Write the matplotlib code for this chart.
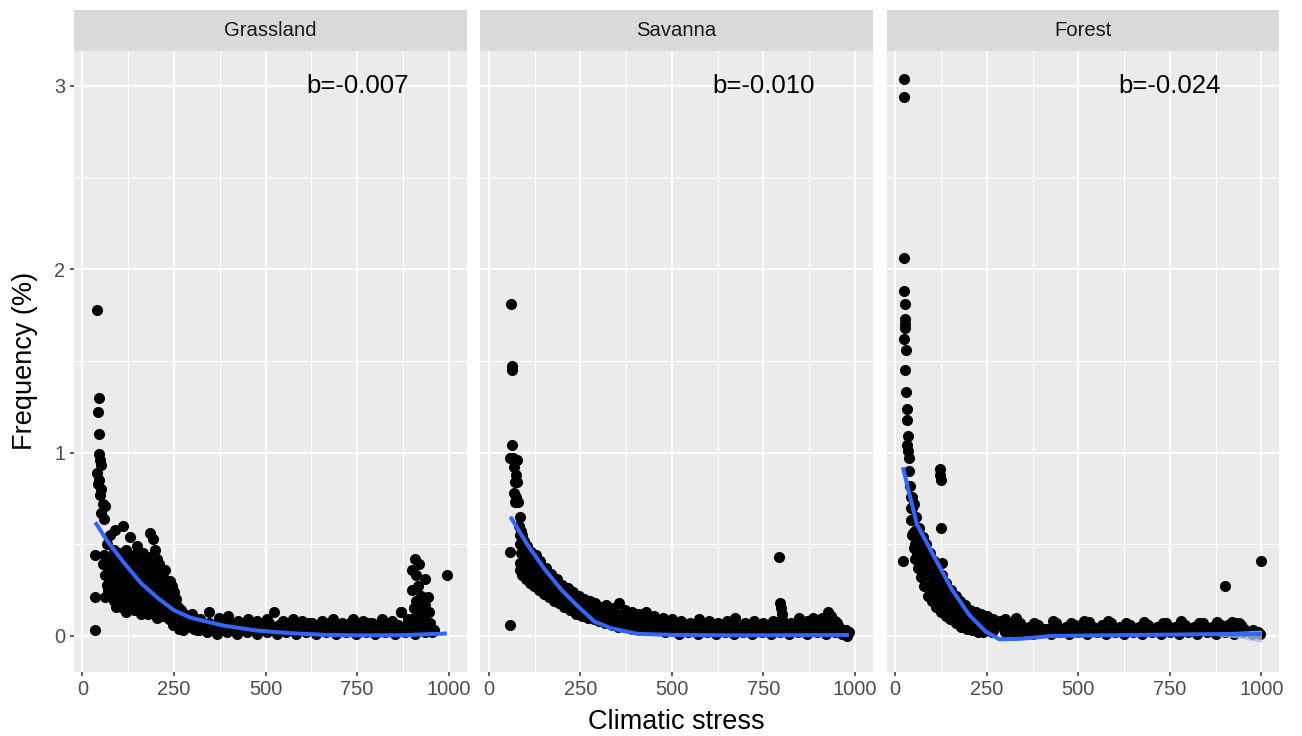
import matplotlib
matplotlib.use("Agg")
import matplotlib.pyplot as plt
from matplotlib.ticker import MultipleLocator

plt.rcParams['font.family'] = ['Liberation Sans', 'DejaVu Sans']

facets = ["Grassland", "Savanna", "Forest"]
slopes = ["b=-0.007", "b=-0.010", "b=-0.024"]

# points (climatic stress, frequency %)
grass_pts = [
    (40, 1.78), (45, 1.30), (43, 1.22), (45, 1.10), (44, 0.99), (48, 0.96), (52, 0.93), (40, 0.89),
    (46, 0.85), (42, 0.83), (50, 0.80), (47, 0.77), (56, 0.72), (63, 0.71), (52, 0.67), (58, 0.64),
    (35, 0.44), (35, 0.21), (35, 0.03),
    (111, 0.60), (130, 0.54), (184, 0.56), (193, 0.53), (197, 0.47), (150, 0.49), (166, 0.45),
    (120, 0.47), (88, 0.58), (76, 0.55), (68, 0.50), (86, 0.47),
    (60, 0.44), (82, 0.43), (101, 0.45), (122, 0.42), (141, 0.44), (158, 0.41), (178, 0.43), (205, 0.42),
    (57, 0.39), (74, 0.37), (96, 0.40), (113, 0.36), (134, 0.39), (153, 0.36), (172, 0.38), (194, 0.37),
    (214, 0.35), (62, 0.33), (81, 0.31), (99, 0.34), (121, 0.32), (139, 0.30), (162, 0.33), (181, 0.31),
    (199, 0.29), (221, 0.32), (238, 0.30), (66, 0.28), (87, 0.26), (104, 0.29), (127, 0.27), (146, 0.25),
    (168, 0.28), (187, 0.24), (207, 0.27), (228, 0.25), (246, 0.27), (61, 0.21), (79, 0.23), (98, 0.20),
    (118, 0.22), (137, 0.19), (157, 0.22), (176, 0.19), (198, 0.21), (218, 0.18), (239, 0.22), (256, 0.20),
    (92, 0.16), (112, 0.15), (131, 0.17), (152, 0.14), (171, 0.16), (193, 0.14), (213, 0.13), (233, 0.15),
    (252, 0.16), (160, 0.12), (205, 0.10), (236, 0.09), (248, 0.06), (260, 0.12), (265, 0.04), (268, 0.08),
    (275, 0.03), (283, 0.10), (290, 0.06), (300, 0.12), (312, 0.03),
    (70, 0.42), (90, 0.41), (110, 0.43), (130, 0.41), (150, 0.42), (170, 0.40), (190, 0.41), (210, 0.39),
    (225, 0.36), (70, 0.35), (90, 0.36), (110, 0.33), (130, 0.35), (150, 0.32), (170, 0.35), (190, 0.33),
    (210, 0.31), (230, 0.28), (250, 0.24), (75, 0.30), (95, 0.28), (115, 0.30), (135, 0.28), (155, 0.29),
    (175, 0.26), (195, 0.26), (215, 0.23), (235, 0.20), (262, 0.16), (70, 0.25), (92, 0.23), (110, 0.25),
    (130, 0.23), (150, 0.24), (170, 0.22), (190, 0.23), (210, 0.19), (228, 0.17), (270, 0.14), (85, 0.19),
    (105, 0.18), (125, 0.19), (145, 0.17), (165, 0.18), (185, 0.17), (205, 0.16), (225, 0.14), (245, 0.12),
    (278, 0.12), (120, 0.13), (140, 0.14), (180, 0.12), (220, 0.11), (255, 0.09), (285, 0.05), (295, 0.09),
    (305, 0.04), (315, 0.07),
    (320, 0.09), (347, 0.13), (372, 0.10), (398, 0.11), (425, 0.08), (452, 0.09), (478, 0.08), (505, 0.09),
    (523, 0.13), (548, 0.08), (575, 0.09), (600, 0.08), (628, 0.07), (655, 0.08), (683, 0.09), (710, 0.07),
    (738, 0.09), (765, 0.08), (792, 0.07), (818, 0.09), (845, 0.08), (870, 0.13), (888, 0.09),
    (345, 0.07), (372, 0.065), (400, 0.075), (428, 0.06), (455, 0.07), (482, 0.065), (510, 0.07), (537, 0.06),
    (564, 0.07), (591, 0.065), (618, 0.07), (645, 0.06), (672, 0.07), (699, 0.06), (726, 0.065), (753, 0.06),
    (780, 0.07), (807, 0.06), (834, 0.065), (861, 0.06), (888, 0.07), (915, 0.06), (940, 0.065),
    (330, 0.05), (358, 0.06), (385, 0.04), (412, 0.05), (440, 0.06), (466, 0.04), (493, 0.05), (520, 0.05),
    (546, 0.04), (573, 0.06), (600, 0.04), (627, 0.05), (654, 0.04), (681, 0.05), (708, 0.04), (735, 0.05),
    (762, 0.04), (789, 0.05), (816, 0.04), (843, 0.05), (870, 0.04), (897, 0.05), (924, 0.04), (950, 0.05),
    (318, 0.03), (352, 0.035), (380, 0.03), (408, 0.035), (435, 0.03), (462, 0.03), (490, 0.035), (517, 0.03),
    (544, 0.035), (571, 0.03), (598, 0.03), (625, 0.035), (652, 0.03), (679, 0.03), (706, 0.035), (733, 0.03),
    (760, 0.03), (787, 0.035), (814, 0.03), (841, 0.03), (868, 0.035), (895, 0.03), (922, 0.03), (948, 0.035),
    (340, 0.02), (368, 0.01), (395, 0.02), (422, 0.01), (449, 0.02), (476, 0.01), (503, 0.02), (530, 0.01),
    (557, 0.02), (584, 0.01), (611, 0.02), (638, 0.01), (665, 0.02), (692, 0.01), (719, 0.02), (746, 0.01),
    (773, 0.02), (800, 0.01), (827, 0.02), (854, 0.01), (881, 0.02), (908, 0.01), (935, 0.02), (955, 0.02),
    (907, 0.42), (920, 0.39), (900, 0.36), (912, 0.33), (935, 0.31), (915, 0.27), (900, 0.25), (944, 0.21),
    (910, 0.19), (935, 0.17), (871, 0.13), (946, 0.13), (920, 0.14), (905, 0.10), (930, 0.09), (950, 0.07),
    (960, 0.03), (925, 0.22), (905, 0.15), (925, 0.11), (940, 0.05), (915, 0.06), (995, 0.33),
]

savanna_pts = [
    (61, 1.81), (63, 1.47), (64, 1.45), (64, 1.04), (58, 0.97), (66, 0.97), (76, 0.96), (70, 0.92),
    (74, 0.88), (72, 0.84), (78, 0.84), (68, 0.78), (75, 0.76), (71, 0.73), (80, 0.73), (86, 0.65),
    (90, 0.55), (59, 0.46), (59, 0.06), (83, 0.60), (88, 0.57),
    (85, 0.55), (95, 0.52), (105, 0.49), (115, 0.46), (128, 0.44), (140, 0.41), (155, 0.37), (170, 0.34),
    (185, 0.31), (200, 0.28), (215, 0.26), (230, 0.24), (245, 0.22), (260, 0.20), (275, 0.19), (290, 0.18),
    (305, 0.16), (320, 0.17), (340, 0.15), (355, 0.18), (372, 0.14), (390, 0.13), (410, 0.12), (430, 0.13),
    (450, 0.11), (475, 0.10),
    (86, 0.50), (96, 0.47), (107, 0.44), (118, 0.41), (131, 0.39), (144, 0.36), (158, 0.33), (173, 0.30),
    (187, 0.28), (202, 0.25), (217, 0.23), (232, 0.21), (247, 0.19), (262, 0.18), (277, 0.165), (293, 0.155),
    (308, 0.14), (324, 0.135), (342, 0.125), (360, 0.12), (378, 0.11), (395, 0.105), (415, 0.10), (435, 0.095),
    (456, 0.09), (478, 0.08),
    (88, 0.45), (98, 0.41), (110, 0.39), (122, 0.36), (135, 0.33), (148, 0.30), (162, 0.28), (176, 0.26),
    (190, 0.24), (205, 0.22), (220, 0.20), (235, 0.18), (250, 0.16), (265, 0.15), (280, 0.14), (296, 0.13),
    (312, 0.12), (328, 0.11), (345, 0.10), (362, 0.10), (380, 0.09), (400, 0.08), (420, 0.08), (440, 0.07),
    (462, 0.07), (485, 0.06),
    (86, 0.40), (95, 0.37), (106, 0.35), (117, 0.32), (130, 0.30), (142, 0.28), (156, 0.255), (170, 0.235),
    (184, 0.215), (198, 0.20), (213, 0.18), (228, 0.16), (244, 0.14), (260, 0.13), (275, 0.12), (291, 0.11),
    (307, 0.10), (323, 0.09), (340, 0.08), (358, 0.075), (376, 0.07), (395, 0.06), (415, 0.06), (435, 0.05),
    (458, 0.05), (482, 0.04),
    (84, 0.36), (92, 0.33), (102, 0.31), (112, 0.29), (124, 0.27), (136, 0.25), (150, 0.23), (164, 0.21),
    (178, 0.19), (192, 0.18), (206, 0.16), (222, 0.14), (238, 0.12), (254, 0.11), (270, 0.10), (286, 0.09),
    (302, 0.08), (318, 0.07), (336, 0.06), (354, 0.05), (372, 0.05), (390, 0.04), (410, 0.04), (430, 0.03),
    (455, 0.03), (480, 0.02),
    (500, 0.09), (525, 0.08), (550, 0.07), (575, 0.09), (600, 0.08), (625, 0.07), (650, 0.08), (672, 0.10),
    (700, 0.07), (725, 0.08), (750, 0.07), (775, 0.08), (800, 0.09), (825, 0.07), (848, 0.10), (870, 0.08),
    (895, 0.08), (910, 0.10), (926, 0.13), (935, 0.11), (945, 0.08), (886, 0.10),
    (500, 0.065), (530, 0.06), (558, 0.065), (586, 0.06), (614, 0.065), (642, 0.06), (670, 0.065), (698, 0.06),
    (726, 0.065), (754, 0.06), (782, 0.065), (810, 0.06), (838, 0.065), (866, 0.06), (894, 0.065), (922, 0.06),
    (950, 0.07),
    (510, 0.05), (535, 0.04), (560, 0.05), (585, 0.04), (610, 0.05), (635, 0.04), (660, 0.05), (685, 0.04),
    (710, 0.05), (735, 0.04), (760, 0.05), (785, 0.04), (810, 0.05), (835, 0.04), (860, 0.05), (885, 0.04),
    (910, 0.05), (935, 0.04), (955, 0.05),
    (505, 0.03), (532, 0.03), (560, 0.03), (588, 0.03), (616, 0.03), (644, 0.03), (672, 0.03), (700, 0.03),
    (728, 0.03), (756, 0.03), (784, 0.03), (812, 0.03), (840, 0.03), (868, 0.03), (896, 0.03), (924, 0.03),
    (952, 0.03), (975, 0.03),
    (520, 0.01), (545, 0.02), (570, 0.01), (595, 0.02), (620, 0.01), (645, 0.02), (670, 0.01), (695, 0.02),
    (720, 0.01), (745, 0.02), (770, 0.01), (795, 0.02), (820, 0.01), (845, 0.02), (870, 0.01), (895, 0.02),
    (920, 0.01), (945, 0.02), (965, 0.01), (983, 0.02), (978, 0.00),
    (793, 0.43), (795, 0.18), (797, 0.155), (800, 0.12),
]

forest_pts = [
    (23, 3.04), (24, 2.94), (25, 2.06), (24, 1.88), (26, 1.81), (27, 1.73), (26, 1.70), (28, 1.68),
    (25, 1.62), (29, 1.56), (28, 1.45), (30, 1.33), (31, 1.24), (33, 1.18), (34, 1.09), (33, 1.04),
    (36, 1.01), (37, 0.97), (39, 0.90), (21, 0.41),
    (123, 0.91), (123, 0.88), (124, 0.85), (125, 0.59), (127, 0.40),
    (40, 0.82), (45, 0.76), (50, 0.72), (58, 0.65), (66, 0.59), (75, 0.54), (85, 0.50), (95, 0.45),
    (105, 0.41), (115, 0.37), (128, 0.33), (140, 0.29), (152, 0.25), (165, 0.22), (178, 0.19), (190, 0.17),
    (205, 0.14), (220, 0.13), (235, 0.12), (250, 0.11), (268, 0.09), (285, 0.08), (300, 0.09), (315, 0.07),
    (329, 0.10),
    (43, 0.76), (47, 0.70), (52, 0.64), (58, 0.58), (65, 0.53), (72, 0.49), (80, 0.45), (90, 0.42),
    (100, 0.38), (110, 0.34), (122, 0.30), (135, 0.27), (147, 0.23), (160, 0.20), (172, 0.17), (185, 0.15),
    (198, 0.12), (212, 0.10), (228, 0.09), (244, 0.08), (260, 0.07), (278, 0.06),
    (42, 0.70), (48, 0.64), (55, 0.57), (62, 0.52), (70, 0.46), (78, 0.42), (88, 0.38), (98, 0.34),
    (108, 0.30), (118, 0.27), (130, 0.24), (142, 0.21), (155, 0.17), (168, 0.14), (182, 0.12), (196, 0.09),
    (210, 0.07), (225, 0.06), (240, 0.05), (255, 0.05), (270, 0.04),
    (44, 0.63), (49, 0.56), (55, 0.50), (60, 0.45), (66, 0.41), (75, 0.37), (84, 0.33), (94, 0.28),
    (104, 0.25), (115, 0.22), (127, 0.19), (140, 0.16), (152, 0.13), (165, 0.11), (178, 0.09), (190, 0.07),
    (204, 0.05), (218, 0.04), (232, 0.03), (250, 0.03), (265, 0.02),
    (45, 0.55), (50, 0.48), (55, 0.42), (62, 0.37), (70, 0.32), (80, 0.27), (90, 0.22), (100, 0.19),
    (112, 0.16), (125, 0.13), (138, 0.11), (150, 0.09), (165, 0.07), (180, 0.05), (195, 0.04), (210, 0.03),
    (225, 0.02), (240, 0.02),
    (330, 0.08), (380, 0.07), (430, 0.08), (480, 0.07), (530, 0.075), (580, 0.08), (630, 0.07), (680, 0.075),
    (730, 0.07), (780, 0.08), (830, 0.07), (880, 0.075), (920, 0.075), (940, 0.07),
    (290, 0.06), (315, 0.04), (340, 0.07), (365, 0.05), (390, 0.06), (415, 0.04), (440, 0.07), (465, 0.05),
    (490, 0.06), (515, 0.08), (540, 0.05), (565, 0.06), (590, 0.07), (615, 0.05), (640, 0.06), (665, 0.05),
    (690, 0.06), (715, 0.05), (740, 0.07), (765, 0.05), (790, 0.06), (815, 0.05), (840, 0.07), (865, 0.05),
    (890, 0.06), (910, 0.06), (928, 0.07), (945, 0.06),
    (303, 0.04), (328, 0.045), (353, 0.04), (378, 0.045), (403, 0.04), (428, 0.045), (453, 0.04), (478, 0.045),
    (503, 0.04), (528, 0.045), (553, 0.04), (578, 0.045), (603, 0.04), (628, 0.045), (653, 0.04), (678, 0.045),
    (703, 0.04), (728, 0.045), (753, 0.04), (778, 0.045), (803, 0.04), (828, 0.045), (853, 0.04), (878, 0.045),
    (903, 0.04), (928, 0.045), (953, 0.04), (978, 0.03),
    (300, 0.02), (325, 0.01), (350, 0.02), (375, 0.01), (400, 0.02), (425, 0.01), (450, 0.02), (475, 0.01),
    (500, 0.02), (525, 0.01), (550, 0.02), (575, 0.01), (600, 0.02), (625, 0.01), (650, 0.02), (675, 0.01),
    (700, 0.02), (725, 0.01), (750, 0.02), (775, 0.01), (800, 0.02), (825, 0.01), (850, 0.02), (875, 0.01),
    (900, 0.02), (925, 0.01), (950, 0.02), (975, 0.01), (995, 0.01), (990, 0.02),
    (900, 0.27), (1000, 0.41),
]

# smooth fit curves
grass_fit_x = [35, 69, 113, 159, 204, 250, 295, 340, 386, 477, 568, 659, 750, 870, 995]
grass_fit_y = [0.62, 0.515, 0.40, 0.29, 0.21, 0.14, 0.10, 0.078, 0.056, 0.029, 0.015, 0.006, 0.003, 0.004, 0.013]
savanna_fit_x = [59, 108, 154, 199, 244, 289, 334, 406, 515, 700, 983]
savanna_fit_y = [0.65, 0.49, 0.36, 0.25, 0.16, 0.078, 0.042, 0.011, 0.005, 0.003, 0.005]
forest_fit_x = [21, 59, 111, 156, 202, 247, 284, 338, 429, 612, 885, 1000]
forest_fit_y = [0.92, 0.61, 0.415, 0.25, 0.115, 0.024, -0.018, -0.016, 0.0, 0.004, 0.01, 0.01]

# confidence band visible at the right end of the Forest fit
forest_se_x = [880, 940, 1000]
forest_se_lo = [0.0, -0.012, -0.035]
forest_se_hi = [0.02, 0.026, 0.032]

points = [grass_pts, savanna_pts, forest_pts]
fits = [(grass_fit_x, grass_fit_y), (savanna_fit_x, savanna_fit_y), (forest_fit_x, forest_fit_y)]

W, H = 1302, 736
fig = plt.figure(figsize=(W / 100, H / 100), dpi=100)
fig.patch.set_facecolor("white")

panel_w = 392.8
lefts = [73.7, 480.1, 886.5]
top, bottom, strip_top = 51, 671.5, 10

for i, name in enumerate(facets):
    l = lefts[i]
    ax = fig.add_axes([l / W, (H - bottom) / H, panel_w / W, (bottom - top) / H])
    ax.set_facecolor("#EBEBEB")
    for s in ax.spines.values():
        s.set_visible(False)
    ax.set_xlim(-23.75, 1048.75)
    ax.set_ylim(-0.194, 3.19)
    ax.xaxis.set_major_locator(MultipleLocator(250))
    ax.xaxis.set_minor_locator(MultipleLocator(125))
    ax.yaxis.set_major_locator(MultipleLocator(1))
    ax.yaxis.set_minor_locator(MultipleLocator(0.5))
    ax.grid(which="major", color="white", linewidth=1.5)
    ax.grid(which="minor", color="white", linewidth=0.75)
    ax.set_axisbelow(True)
    ax.tick_params(which="minor", length=0)
    ax.tick_params(which="major", length=3, width=1.1, color="#333333",
                   labelcolor="#4D4D4D", labelsize=14.4, pad=3)
    if i > 0:
        ax.tick_params(axis="y", which="major", length=0, labelleft=False)

    xs = [p[0] for p in points[i]]
    ys = [p[1] for p in points[i]]
    ax.scatter(xs, ys, s=64, color="black", linewidths=0, zorder=2)
    if name == "Forest":
        ax.fill_between(forest_se_x, forest_se_lo, forest_se_hi, color="#A8BCEB",
                        alpha=0.8, linewidth=0, zorder=2.5)
    ax.plot(fits[i][0], fits[i][1], color="#3366FF", linewidth=2.9, zorder=3,
            solid_capstyle="butt", solid_joinstyle="round")
    ax.text(750, 3.0, slopes[i], ha="center", va="center", fontsize=18.5, color="black")

    sax = fig.add_axes([l / W, (H - top) / H, panel_w / W, (top - strip_top) / H])
    sax.set_facecolor("#D9D9D9")
    sax.set_xticks([])
    sax.set_yticks([])
    for s in sax.spines.values():
        s.set_visible(False)
    sax.text(0.5, 0.5, name, ha="center", va="center", fontsize=14.6,
             color="#1A1A1A", transform=sax.transAxes)

fig.text((lefts[0] + lefts[2] + panel_w) / 2 / W, 1 - 722 / H, "Climatic stress",
         ha="center", va="center", fontsize=19.5, color="black")
fig.text(25 / W, 1 - (top + bottom) / 2 / H, "Frequency (%)", rotation=90,
         ha="center", va="center", fontsize=19.5, color="black")

fig.savefig("out.png", dpi=100, facecolor="white")
